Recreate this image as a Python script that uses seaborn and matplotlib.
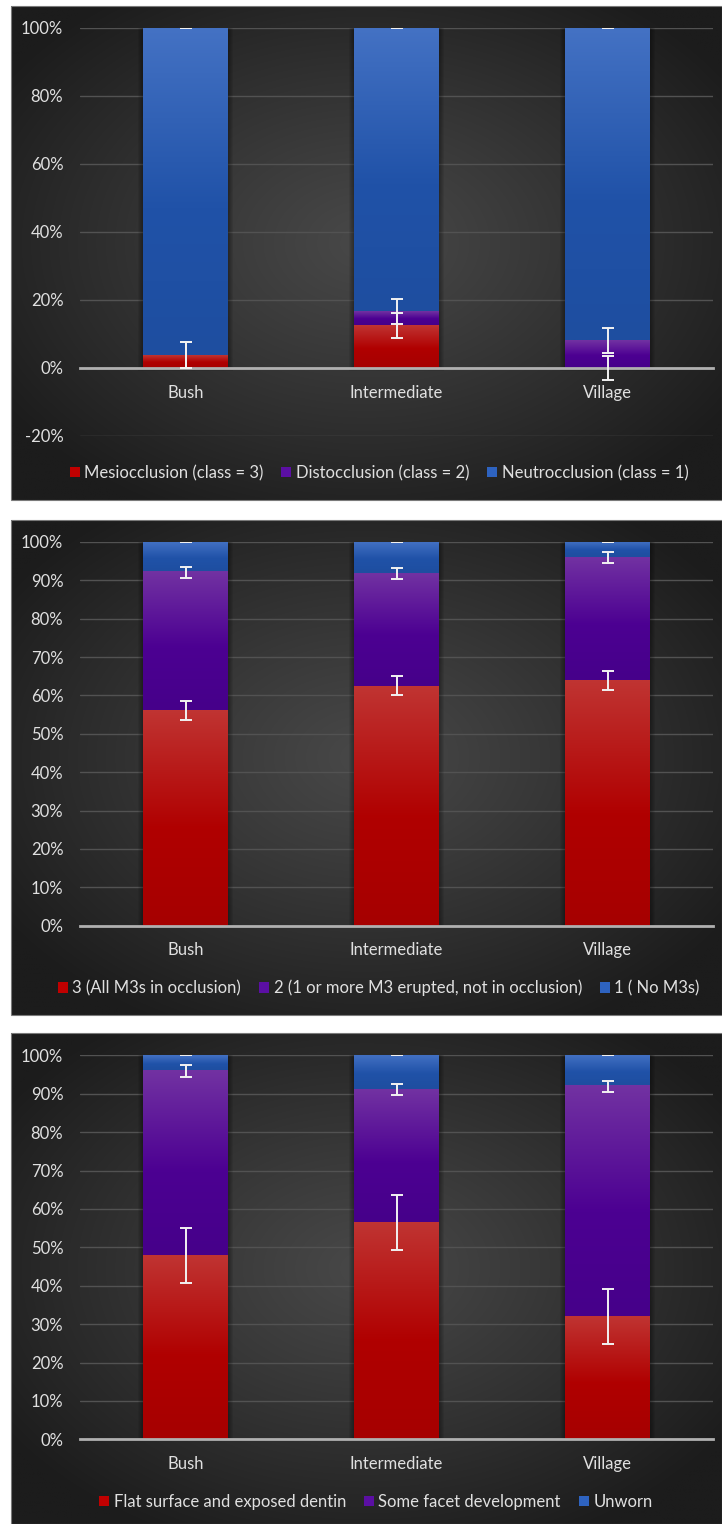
import numpy as np
import matplotlib
matplotlib.use("Agg")
import matplotlib.pyplot as plt
from matplotlib.patches import Rectangle, Patch
from matplotlib.ticker import FuncFormatter, MultipleLocator
import seaborn as sns

categories = ["Bush", "Intermediate", "Village"]

# Occlusion class (percent of individuals)
occlusion_labels = ["Mesiocclusion (class = 3)", "Distocclusion (class = 2)",
                    "Neutrocclusion (class = 1)"]
mesio = [3.8, 12.6, 0.0]
disto = [0.0, 4.1, 8.2]
neutro = [96.2, 83.3, 91.8]
mesio_err = [3.8, 3.7, 3.6]
disto_err = [3.8, 3.7, 3.7]
neutro_err = [0.0, 0.0, 0.0]

# Third molar eruption
eruption_labels = ["3 (All M3s in occlusion)",
                   "2 (1 or more M3 erupted, not in occlusion)", "1 ( No M3s)"]
m3_all = [56.1, 62.5, 64.0]
m3_some = [36.0, 29.3, 32.0]
m3_none = [7.9, 8.2, 4.0]
m3_all_err = [2.5, 2.5, 2.5]
m3_some_err = [1.4, 1.4, 1.4]
m3_none_err = [0.0, 0.0, 0.0]

# Third molar wear
wear_labels = ["Flat surface and exposed dentin", "Some facet development", "Unworn"]
wear_flat = [47.9, 56.4, 32.0]
wear_facet = [48.1, 34.7, 59.9]
wear_unworn = [4.0, 8.9, 8.1]
wear_flat_err = [7.2, 7.2, 7.2]
wear_facet_err = [1.6, 1.5, 1.5]
wear_unworn_err = [0.0, 0.0, 0.0]

# colours: (light top, dark body, bottom) for red, purple, blue segments
SEG_COLORS = [
    ((192, 52, 50), (176, 0, 0), (166, 0, 0)),
    ((114, 50, 162), (76, 0, 146), (70, 0, 138)),
    ((68, 114, 196), (32, 82, 168), (30, 78, 160)),
]
LEGEND_COLORS = ["#c00000", "#5b0fa3", "#2e63c0"]
TEXT = "#e0e0e0"
FS = 12

sns.set_style("dark")
plt.rcParams["font.family"] = ["Lato", "DejaVu Sans"]

FW, FH = 722, 1524
fig = plt.figure(figsize=(FW / 100, FH / 100), dpi=100, facecolor="white")

# dark panel backgrounds with a soft radial glow
bg = fig.add_axes([0, 0, 1, 1], zorder=-10)
bg.set_xlim(0, FW)
bg.set_ylim(FH, 0)
bg.axis("off")
panels = [(11, 6, 722, 500), (11, 520, 722, 1015), (11, 1033, 722, 1524)]
center_c = np.array([72, 72, 72]) / 255
edge_c = np.array([28, 28, 28]) / 255
for (x0, y0, x1, y1) in panels:
    yy, xx = np.mgrid[0:1:300j, 0:1:300j]
    r = np.sqrt(((xx - 0.5) / 0.5) ** 2 + ((yy - 0.48) / 0.5) ** 2) / np.sqrt(2)
    t = np.clip(r * 1.15, 0, 1) ** 1.1
    img = center_c[None, None, :] * (1 - t[..., None]) + edge_c[None, None, :] * t[..., None]
    bg.imshow(img, extent=(x0, x1, y1, y0), aspect="auto", interpolation="bilinear")
    bg.add_patch(Rectangle((x0, y0), x1 - x0, y1 - y0, fill=False,
                           edgecolor="#7a7a7a", lw=0.8))
bg.set_xlim(0, FW)
bg.set_ylim(FH, 0)


def seg_gradient(k, n=200):
    light, dark, bottom = [np.array(c) / 255 for c in SEG_COLORS[k]]
    t = np.linspace(0, 1, n)
    out = np.empty((n, 1, 3))
    for i, ti in enumerate(t):
        if ti < 0.55:
            s = ti / 0.55
            c = light * (1 - s) + dark * s
        else:
            s = (ti - 0.55) / 0.45
            c = dark * (1 - s) + bottom * s
        out[i, 0] = c
    return out


def draw_panel(rect_px, series, errs, labels, ylim, step, legend_xy):
    x0, ytop, x1, ybot = rect_px
    ax = fig.add_axes([x0 / FW, 1 - ybot / FH, (x1 - x0) / FW, (ybot - ytop) / FH])
    ax.set_facecolor("none")
    vals = np.array(series, dtype=float)
    cum = np.cumsum(vals, axis=0)
    bottoms = np.vstack([np.zeros(vals.shape[1]), cum[:-1]])

    px_x = 3.0 / (x1 - x0)
    px_y = (ylim[1] - ylim[0]) / (ybot - ytop)

    # cumulative totals, tallest first, so each lower series sits on top
    for k in reversed(range(len(series))):
        n0 = len(ax.patches)
        sns.barplot(x=categories, y=cum[k], order=categories, color=LEGEND_COLORS[k],
                    saturation=1, width=0.4, errorbar=None, ax=ax, zorder=2)
        bars = ax.patches[n0:]
        for j, bar in enumerate(bars):
            bar.set_linewidth(0)
            bx, bw = bar.get_x(), bar.get_width()
            top = bar.get_y() + bar.get_height()
            bot = bottoms[k][j]
            if k == len(series) - 1:
                for d in range(1, 6):
                    ax.add_patch(Rectangle((bx - d * px_x, 0 - d * px_y * 0.6),
                                           bw + 2 * d * px_x, top + d * px_y * 0.6,
                                           facecolor="black", alpha=0.07,
                                           lw=0, zorder=1.5))
            if top - bot <= 0:
                continue
            ax.imshow(seg_gradient(k), extent=(bx, bx + bw, bot, top), aspect="auto",
                      origin="upper", interpolation="bilinear", zorder=3)

    for k in range(len(series)):
        ax.errorbar(np.arange(len(categories)), cum[k], yerr=errs[k], fmt="none",
                    ecolor="#f2f2f2", elinewidth=1.4, capsize=4.5, capthick=1.4,
                    zorder=6)

    ax.set_xlim(-0.5, len(categories) - 0.5)
    ax.set_ylim(*ylim)
    ax.yaxis.set_major_locator(MultipleLocator(step))
    ax.yaxis.set_major_formatter(FuncFormatter(lambda v, p: f"{v:.0f}%"))
    ax.grid(axis="y", color="#525252", lw=1, zorder=0)
    ax.grid(axis="x", visible=False)
    for s in ["top", "right", "left"]:
        ax.spines[s].set_visible(False)
    ax.spines["bottom"].set_position(("data", 0))
    ax.spines["bottom"].set_color("#b0b0b0")
    ax.spines["bottom"].set_linewidth(2)
    ax.spines["bottom"].set_zorder(5)
    ax.tick_params(axis="y", length=0, pad=12, labelcolor=TEXT, labelsize=FS)
    ax.tick_params(axis="x", length=0, pad=12, labelcolor=TEXT, labelsize=FS)
    ax.set_xlabel("")
    ax.set_ylabel("")

    handles = [Patch(facecolor=c, edgecolor="none") for c in LEGEND_COLORS]
    fig.legend(handles, labels, loc="center", ncol=3, frameon=False,
               bbox_to_anchor=(legend_xy[0] / FW, 1 - legend_xy[1] / FH),
               fontsize=FS, labelcolor=TEXT, handlelength=0.6, handleheight=0.6,
               handletextpad=0.25, columnspacing=1.1)
    return ax


draw_panel((80, 28, 713, 436), [mesio, disto, neutro],
           [mesio_err, disto_err, neutro_err], occlusion_labels,
           (-20, 100), 20, (379, 473))
draw_panel((80, 542, 713, 925.7), [m3_all, m3_some, m3_none],
           [m3_all_err, m3_some_err, m3_none_err], eruption_labels,
           (0, 100), 10, (379, 988))
draw_panel((80, 1055.3, 713, 1439.3), [wear_flat, wear_facet, wear_unworn],
           [wear_flat_err, wear_facet_err, wear_unworn_err], wear_labels,
           (0, 100), 10, (376, 1502))

fig.savefig("out.png", dpi=100, facecolor="white")
